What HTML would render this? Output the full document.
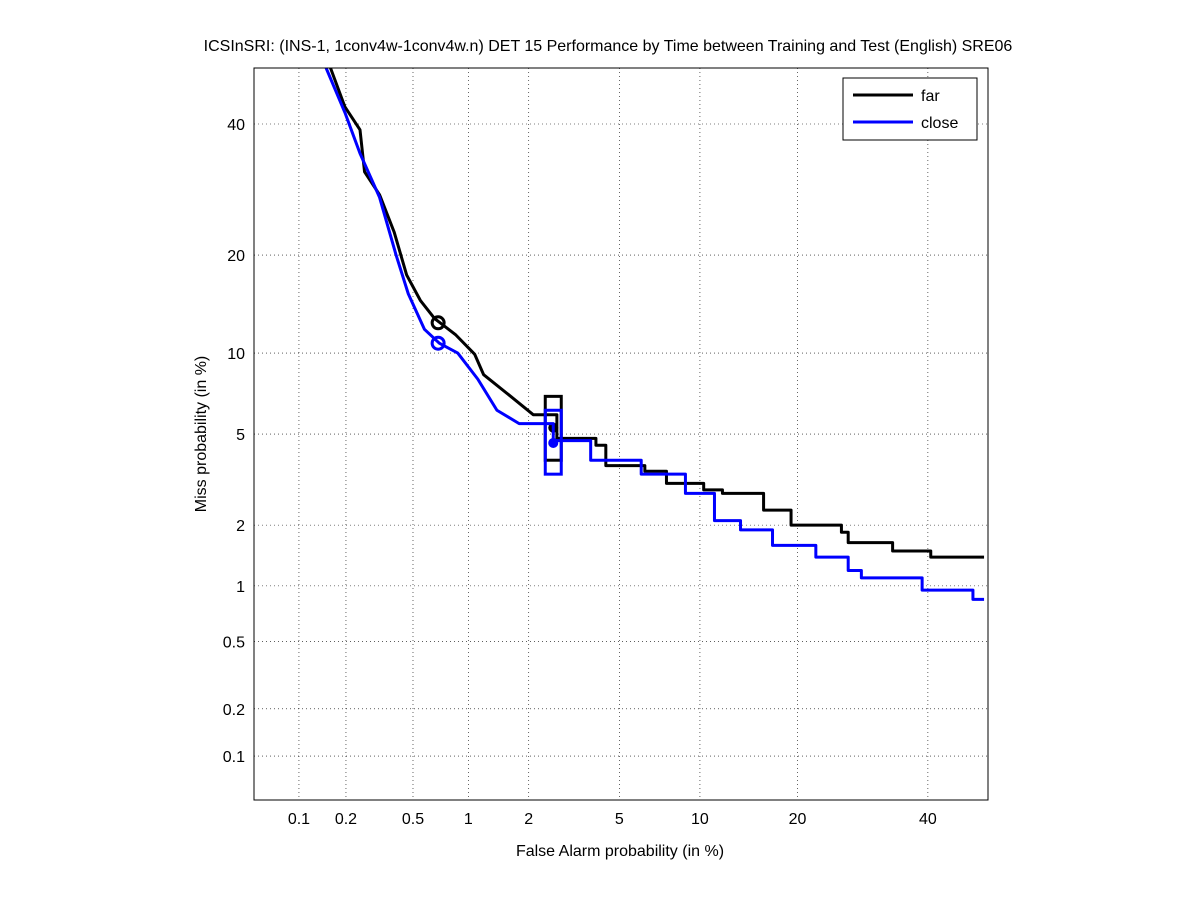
<!DOCTYPE html>
<html><head><meta charset="utf-8"><style>
body{margin:0;background:#fff;font-family:"Liberation Sans",sans-serif}
svg text{font-family:"Liberation Sans",sans-serif;font-size:16px;fill:#000}
</style></head><body>
<svg id="c" width="1201" height="900" xmlns="http://www.w3.org/2000/svg">
<text x="608" y="51" text-anchor="middle">ICSInSRI: (INS-1, 1conv4w-1conv4w.n) DET 15 Performance by Time between Training and Test (English) SRE06</text>
<text x="620" y="856" text-anchor="middle">False Alarm probability (in %)</text>
<text transform="translate(206,434) rotate(-90)" text-anchor="middle">Miss probability (in %)</text>
<g id="grid"></g><g id="ticks"></g><g id="series"></g>
<rect x="254" y="68" width="734" height="732" fill="none" stroke="#000"/>
<g>
<rect x="843" y="78" width="134" height="62" fill="#fff" stroke="#000"/>
<line x1="853" y1="95" x2="913" y2="95" stroke="#000" stroke-width="3"/>
<text x="921" y="101">far</text>
<line x1="853" y1="122" x2="913" y2="122" stroke="#00f" stroke-width="3"/>
<text x="921" y="128">close</text>
</g>
</svg>
<script>
const xTicks=[0.1,0.2,0.5,1,2,5,10,20,40];
const yTicks=[0.1,0.2,0.5,1,2,5,10,20,40];
const farFA=[0.16,0.197,0.244,0.26,0.32,0.39,0.46,0.55,0.66,0.86,1.08,1.2,1.6,2.1,2.7,4.0,4.4,6.3,7.6,10.3,11.9,16,19.2,26,27,34,40.5,50];
const farMiss=[50,43,39,32,28.4,23,17.6,14.8,13,11.5,9.9,8.4,7.1,5.96,4.8,4.5,3.7,3.5,3.1,2.9,2.8,2.35,2.0,1.85,1.65,1.5,1.4,1.4];
const closeFA=[0.15,0.197,0.244,0.32,0.40,0.47,0.58,0.70,0.88,1.12,1.4,1.8,2.6,3.8,6.1,8.9,11.2,13.6,17,22.4,27,29,39,48,50];
const closeMiss=[50,42,35,28,20,15.5,12,10.8,10,8.1,6.2,5.5,4.7,3.9,3.4,2.8,2.1,1.9,1.6,1.4,1.2,1.1,0.95,0.85,0.85];
const circFA=[0.69,0.69];const circMiss=[12.6,10.8];
const boxFA=[2.6,2.6];const boxLo=[3.9,3.4];const boxHi=[7.0,6.2];const boxMid=[5.3,4.6];
const colors=['#000','#00f'];const names=['far','close'];
function ninv(p){
const a=[-39.6968302866538,220.946098424521,-275.928510446969,138.357751867269,-30.6647980661472,2.50662827745924],b=[-54.4760987982241,161.585836858041,-155.698979859887,66.8013118877197,-13.2806815528857],c=[-0.00778489400243029,-0.322396458041136,-2.40075827716184,-2.54973253934373,4.37466414146497,2.93816398269878],d=[0.00778469570904146,0.32246712907004,2.445134137143,3.75440866190742];
let q,r;if(p<0.02425){q=Math.sqrt(-2*Math.log(p));return(((((c[0]*q+c[1])*q+c[2])*q+c[3])*q+c[4])*q+c[5])/((((d[0]*q+d[1])*q+d[2])*q+d[3])*q+1);}
if(p>1-0.02425){q=Math.sqrt(-2*Math.log(1-p));return-(((((c[0]*q+c[1])*q+c[2])*q+c[3])*q+c[4])*q+c[5])/((((d[0]*q+d[1])*q+d[2])*q+d[3])*q+1);}
q=p-0.5;r=q*q;return(((((a[0]*r+a[1])*r+a[2])*r+a[3])*r+a[4])*r+a[5])*q/(((((b[0]*r+b[1])*r+b[2])*r+b[3])*r+b[4])*r+1);}
const X=v=>Math.min(988,Math.max(254,299+(ninv(v/100)+3.090)*221.7));
const Y=v=>Math.min(800,Math.max(68,124+(ninv(0.4)-ninv(v/100))*222.8));
const NS='http://www.w3.org/2000/svg';
function mk(t,at,par){const e=document.createElementNS(NS,t);for(const k in at)e.setAttribute(k,at[k]);document.getElementById(par).appendChild(e);return e;}
xTicks.forEach(v=>{const x=X(v);
const g=mk('line',{x1:x,y1:68,x2:x,y2:800,stroke:'#000','stroke-width':0.6,'stroke-dasharray':'1,3'},'grid');


const t=mk('text',{x:x,y:824,'text-anchor':'middle'},'ticks');t.textContent=v;

});
yTicks.forEach(v=>{const y=Y(v);
const g=mk('line',{x1:254,y1:y,x2:988,y2:y,stroke:'#000','stroke-width':0.6,'stroke-dasharray':'1,3'},'grid');


const t=mk('text',{x:245,y:y+6,'text-anchor':'end'},'ticks');t.textContent=v;

});
[[farFA,farMiss],[closeFA,closeMiss]].forEach((s,i)=>{let d='';
s[0].forEach((f,j)=>{const x=X(f),y=Y(s[1][j]);if(j==0)d='M'+x+','+y;else if(f<2.2){d+=' L'+x+','+y;}else{d+=' L'+x+','+Y(s[1][j-1])+' L'+x+','+y;}});
const p=mk('path',{d:d,fill:'none',stroke:colors[i],'stroke-width':3,'stroke-linejoin':'round'},'series');


const c=mk('circle',{cx:X(circFA[i]),cy:Y(circMiss[i]),r:6,fill:'none',stroke:colors[i],'stroke-width':3},'series');


const bx=X(boxFA[i]);
const r=mk('rect',{x:bx-8,y:Y(boxHi[i]),width:16,height:Y(boxLo[i])-Y(boxHi[i]),fill:'none',stroke:colors[i],'stroke-width':3},'series');


const m=mk('circle',{cx:bx,cy:Y(boxMid[i]),r:5,fill:colors[i]},'series');

});
</script>
</body></html>
